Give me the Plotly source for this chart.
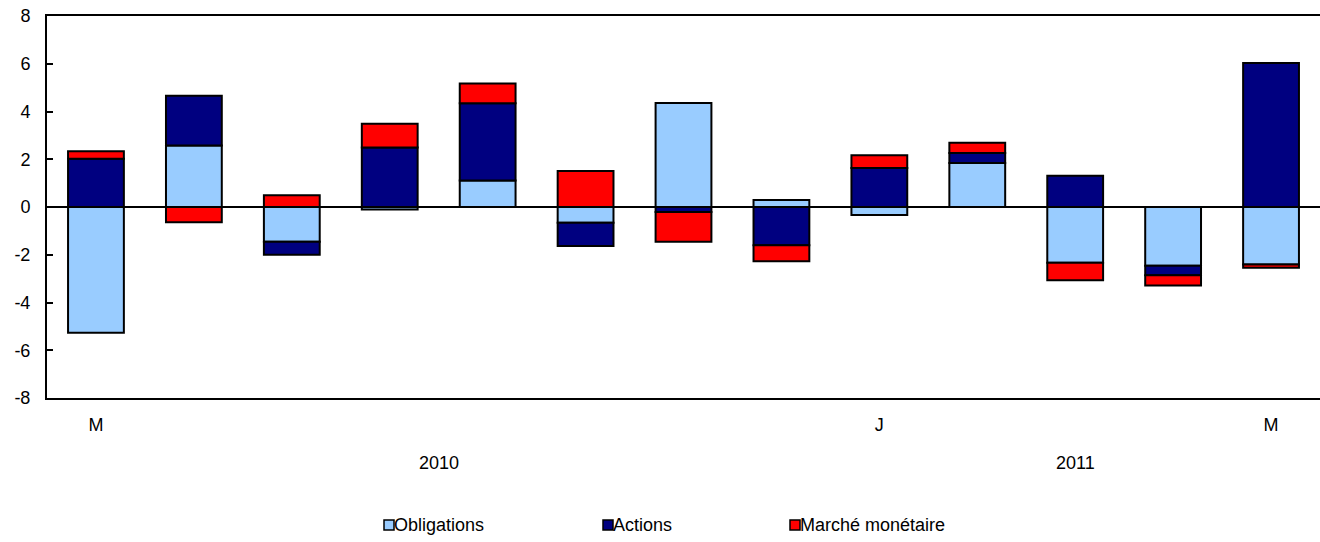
import plotly.graph_objects as go

months = ["2010-05", "2010-06", "2010-07", "2010-08", "2010-09", "2010-10", "2010-11",
          "2010-12", "2011-01", "2011-02", "2011-03", "2011-04", "2011-05"]
obligations = [-5.27, 2.58, -1.46, -0.10, 1.11, -0.66, 4.36, 0.29, -0.34, 1.84, -2.34, -2.46, -2.41]
actions = [2.02, 2.08, -0.54, 2.49, 3.24, -0.97, -0.21, -1.60, 1.63, 0.42, 1.31, -0.40, 6.03]
marche = [0.31, -0.64, 0.49, 1.00, 0.82, 1.51, -1.25, -0.67, 0.54, 0.43, -0.73, -0.43, -0.13]

series = [("Obligations", obligations, "#99CCFF"),
          ("Actions", actions, "#000080"),
          ("Marché monétaire", marche, "#FF0000")]

tick_pos = [0, 8, 12]
tick_text = ["M", "J", "M"]
y_ticks = [-8, -6, -4, -2, 0, 2, 4, 6, 8]
y_text = ["-8", "-6", "-4", "-2", "0", "2", "4", "6", "8"]
years = [("2010", 3.5), ("2011", 10.0)]

FONT = "Liberation Sans, Arial, sans-serif"
FS = 18
W, H = 1320, 542
L, T, B = 47, 16, 398
PW, PH = W - L, B - T

x = list(range(len(months)))

fig = go.Figure()
for name, vals, col in series:
    fig.add_trace(go.Bar(x=x, y=vals, name=name,
                         marker=dict(color=col, line=dict(color="black", width=2)),
                         showlegend=False))

fig.update_layout(
    barmode="relative", bargap=0.43,
    width=W, height=H,
    margin=dict(l=L, r=0, t=T, b=H - B, pad=0),
    plot_bgcolor="white", paper_bgcolor="white",
    font=dict(family=FONT, size=FS, color="black"),
    xaxis=dict(range=[-0.5, 12.5], tickmode="array", tickvals=tick_pos, ticktext=tick_text,
               showline=True, linecolor="black", linewidth=2, mirror=True, ticks="",
               showgrid=False, zeroline=False, ticklabelstandoff=9),
    yaxis=dict(range=[-8, 8], tickmode="array", tickvals=y_ticks, ticktext=y_text,
               showline=True, linecolor="black", linewidth=2, mirror=False,
               ticks="inside", ticklen=6, tickwidth=2, tickcolor="black", showgrid=False,
               zeroline=True, zerolinecolor="black", zerolinewidth=1.5, ticklabelstandoff=11),
)


def py(pix):
    return (B - pix) / PH


def px(pix):
    return (pix - L) / PW


for label, pos in years:
    fig.add_annotation(x=pos, y=py(463), xref="x", yref="paper", text=label, showarrow=False,
                       yanchor="middle")

# custom legend
legend_items = [("Obligations", "#99CCFF", 384), ("Actions", "#000080", 603), ("Marché monétaire", "#FF0000", 790)]
ly = 525
for name, col, p in legend_items:
    fig.add_shape(type="rect", xref="paper", yref="paper", x0=px(p), x1=px(p + 10),
                  y0=py(ly + 5), y1=py(ly - 5), fillcolor=col, line=dict(color="black", width=1.5))
    fig.add_annotation(x=px(p + 10), y=py(ly), xref="paper", yref="paper", text=name,
                       showarrow=False, xanchor="left", yanchor="middle", xshift=-2)

fig.write_html("out.html", config={"displayModeBar": False},
               post_script="document.body.style.margin='0';document.body.style.overflow='hidden';")
